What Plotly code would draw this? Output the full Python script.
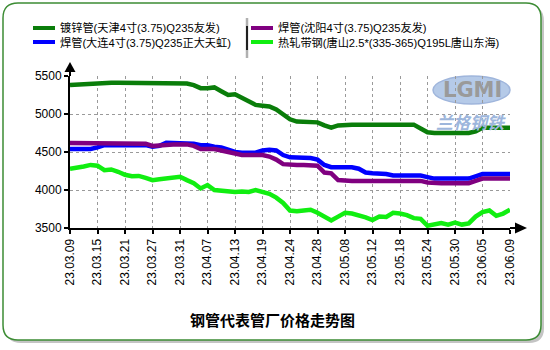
import plotly.graph_objects as go

dates = ["23.03.09", "23.03.10", "23.03.13", "23.03.14", "23.03.15", "23.03.16", "23.03.17",
         "23.03.20", "23.03.21", "23.03.22", "23.03.23", "23.03.24", "23.03.27", "23.03.28",
         "23.03.29", "23.03.30", "23.03.31", "23.04.03", "23.04.04", "23.04.06", "23.04.07",
         "23.04.10", "23.04.11", "23.04.12", "23.04.13", "23.04.14", "23.04.17", "23.04.18",
         "23.04.19", "23.04.20", "23.04.21", "23.04.23", "23.04.24", "23.04.25", "23.04.26",
         "23.04.27", "23.04.28", "23.05.04", "23.05.05", "23.05.06", "23.05.08", "23.05.09",
         "23.05.10", "23.05.11", "23.05.12", "23.05.15", "23.05.16", "23.05.17", "23.05.18",
         "23.05.19", "23.05.22", "23.05.23", "23.05.24", "23.05.25", "23.05.26", "23.05.29",
         "23.05.30", "23.05.31", "23.06.01", "23.06.02", "23.06.05", "23.06.06", "23.06.07",
         "23.06.08", "23.06.09"]

galv_tianjin = [5380, 5385, 5390, 5400, 5410, 5410, 5410, 5410, 5410, 5410, 5410, 5410, 5410,
                5410, 5410, 5410, 5410, 5400, 5380, 5340, 5340, 5350, 5300, 5250, 5260, 5210,
                5160, 5120, 5110, 5100, 5060, 5000, 4930, 4900, 4900, 4900, 4890, 4850, 4820,
                4850, 4860, 4860, 4860, 4860, 4860, 4860, 4860, 4860, 4860, 4860, 4860, 4810,
                4760, 4750, 4750, 4750, 4750, 4750, 4750, 4770, 4820, 4820, 4820, 4820, 4820]

weld_dalian = [4540, 4540, 4540, 4540, 4560, 4590, 4590, 4590, 4590, 4590, 4590, 4590, 4570,
               4580, 4620, 4620, 4620, 4620, 4610, 4590, 4590, 4570, 4560, 4530, 4500, 4490,
               4490, 4490, 4520, 4530, 4520, 4460, 4430, 4430, 4430, 4420, 4400, 4330, 4300,
               4300, 4300, 4300, 4280, 4230, 4220, 4220, 4210, 4190, 4190, 4190, 4190, 4190,
               4170, 4150, 4150, 4150, 4150, 4150, 4150, 4180, 4210, 4210, 4210, 4210, 4210]

weld_shenyang = [4620, 4620, 4620, 4620, 4620, 4620, 4620, 4620, 4620, 4620, 4620, 4610, 4580,
                 4590, 4600, 4600, 4600, 4600, 4580, 4540, 4540, 4540, 4520, 4500, 4470, 4460,
                 4460, 4460, 4460, 4440, 4400, 4340, 4330, 4330, 4330, 4330, 4320, 4230, 4220,
                 4130, 4120, 4120, 4120, 4120, 4120, 4120, 4120, 4120, 4120, 4120, 4120, 4120,
                 4100, 4090, 4090, 4090, 4090, 4090, 4090, 4120, 4150, 4150, 4150, 4150, 4150]

strip_tangshan = [4280, 4290, 4310, 4330, 4320, 4260, 4270, 4240, 4200, 4180, 4185, 4160, 4130,
                  4140, 4155, 4165, 4175, 4130, 4090, 4020, 4065, 4000, 3990, 3980, 3975, 3980,
                  3975, 4000, 3980, 3950, 3900, 3830, 3730, 3720, 3730, 3740, 3700, 3650, 3600,
                  3650, 3700, 3690, 3670, 3640, 3605, 3650, 3645, 3700, 3690, 3670, 3630, 3620,
                  3530, 3550, 3565, 3545, 3570, 3545, 3560, 3650, 3710, 3730, 3660, 3690, 3740]

series_names = ["镀锌管(天津4寸(3.75)Q235友发)", "焊管(大连4寸(3.75)Q235正大天虹)",
                "焊管(沈阳4寸(3.75)Q235友发)", "热轧带钢(唐山2.5*(335-365)Q195L唐山东海)"]
series_colors = ["#0a7d0a", "#0000ff", "#800080", "#11ee11"]
series_values = [galv_tianjin, weld_dalian, weld_shenyang, strip_tangshan]

tick_labels = dates[::4]
y_ticks = [3500, 4000, 4500, 5000, 5500]
title_text = "钢管代表管厂价格走势图"

# plot-area geometry in pixels
L, T, W, H = 70, 76, 440, 152


def px(x):
    return (x - L) / W


def py(y):
    return (T + H - y) / H


def rrect(x0, y0, x1, y1, r):
    pts = [("M", x0 + r, y0), ("L", x1 - r, y0), ("Q", x1, y0, x1, y0 + r),
           ("L", x1, y1 - r), ("Q", x1, y1, x1 - r, y1), ("L", x0 + r, y1),
           ("Q", x0, y1, x0, y1 - r), ("L", x0, y0 + r), ("Q", x0, y0, x0 + r, y0)]
    s = ""
    for p in pts:
        cmd = p[0]
        coords = p[1:]
        parts = []
        for k in range(0, len(coords), 2):
            parts.append(f"{px(coords[k]):.5f},{py(coords[k + 1]):.5f}")
        s += cmd + " ".join(parts) + " "
    return s + "Z"


fig = go.Figure()
for name, col, vals in zip(series_names, series_colors, series_values):
    fig.add_trace(go.Scatter(x=dates, y=vals, mode="lines", name=name,
                             line=dict(color=col, width=4.5), cliponaxis=False,
                             showlegend=False))

font_main = "Liberation Sans, Arial, Noto Sans CJK SC"
shapes = []
# shadow and frame
shapes.append(dict(type="path", path=rrect(6, 6, 544, 343, 15), xref="paper", yref="paper",
                   fillcolor="#c4c4c4", line=dict(width=0), layer="below"))
shapes.append(dict(type="path", path=rrect(3, 3, 541, 340, 15), xref="paper", yref="paper",
                   fillcolor="#ffffff", line=dict(color="#3c8c34", width=1.5), layer="below"))
# logo ellipse
shapes.append(dict(type="circle", xref="paper", yref="paper", x0=px(433), x1=px(510),
                   y0=py(104), y1=py(76), fillcolor="#a9c1e4", opacity=0.85,
                   line=dict(color="#8fa9d6", width=1.5), layer="below"))
# axis extensions and arrows
shapes.append(dict(type="line", xref="paper", yref="paper", x0=0, x1=0, y0=1, y1=py(70),
                   line=dict(color="#000", width=2)))
shapes.append(dict(type="path", xref="paper", yref="paper",
                   path=f"M{px(64.5)},{py(72)} L{px(75.5)},{py(72)} L{px(70)},{py(62)} Z",
                   fillcolor="#000", line=dict(width=0)))
shapes.append(dict(type="line", xref="paper", yref="paper", x0=1, x1=px(516), y0=0, y1=0,
                   line=dict(color="#000", width=2)))
shapes.append(dict(type="path", xref="paper", yref="paper",
                   path=f"M{px(515)},{py(222.5)} L{px(515)},{py(233.5)} L{px(527)},{py(228)} Z",
                   fillcolor="#000", line=dict(width=0)))
# legend separator
shapes.append(dict(type="line", xref="paper", yref="paper", x0=px(247), x1=px(247),
                   y0=py(18), y1=py(58), line=dict(color="#b0b0b0", width=2.5)))
shapes.append(dict(type="line", xref="paper", yref="paper", x0=px(247), x1=px(247),
                   y0=py(26), y1=py(50), line=dict(color="#202020", width=2)))

annotations = []
leg_pos = [(33, 28), (33, 42), (251, 28), (251, 42)]
for (lx, ly), name, col in zip(leg_pos, series_names, series_colors):
    shapes.append(dict(type="line", xref="paper", yref="paper", x0=px(lx), x1=px(lx + 22),
                       y0=py(ly), y1=py(ly), line=dict(color=col, width=4)))
    annotations.append(dict(text=name, xref="paper", yref="paper", x=px(lx + 25), y=py(ly),
                            xanchor="left", yanchor="middle", showarrow=False,
                            font=dict(family=font_main, size=11.2, color="#000")))

annotations.append(dict(text="LGMI", xref="paper", yref="paper", x=px(472), y=py(90),
                        xanchor="center", yanchor="middle", showarrow=False,
                        font=dict(family="DejaVu Sans", size=21, color="#9a9a9a", weight="bold")))
annotations.append(dict(text="兰格钢铁", xref="paper", yref="paper", x=px(471), y=py(121),
                        xanchor="center", yanchor="middle", showarrow=False,
                        font=dict(family="Noto Sans CJK SC", size=17, color="#9db6dc",
                                  style="italic", weight="bold")))
annotations.append(dict(text=title_text, xref="paper", yref="paper", x=px(272), y=py(319),
                        xanchor="center", yanchor="middle", showarrow=False,
                        font=dict(family="Noto Sans CJK SC", size=15, color="#000",
                                  weight="bold")))

fig.update_layout(
    width=550, height=350, autosize=False,
    margin=dict(l=L, r=550 - L - W, t=T, b=350 - T - H, pad=0),
    paper_bgcolor="#ffffff", plot_bgcolor="rgba(0,0,0,0)",
    shapes=shapes, annotations=annotations, showlegend=False,
    xaxis=dict(type="category", range=[0, len(dates) - 1], tickmode="array",
               tickvals=tick_labels, ticktext=tick_labels, tickangle=-90,
               showgrid=True, gridcolor="#9a9a9a", griddash="dot", gridwidth=1,
               showline=True, linecolor="#000", linewidth=2, ticks="outside",
               ticklen=4, tickcolor="#000", tickwidth=1.5, zeroline=False,
               tickfont=dict(family=font_main, size=12, color="#000")),
    yaxis=dict(range=[3500, 5500], tickmode="array", tickvals=y_ticks,
               showgrid=True, gridcolor="#9a9a9a", griddash="dot", gridwidth=1,
               showline=True, linecolor="#000", linewidth=2, ticks="outside",
               ticklen=4, tickcolor="#000", tickwidth=1.5, zeroline=False,
               tickfont=dict(family=font_main, size=12, color="#000")),
)

fig.write_html("out.html")
